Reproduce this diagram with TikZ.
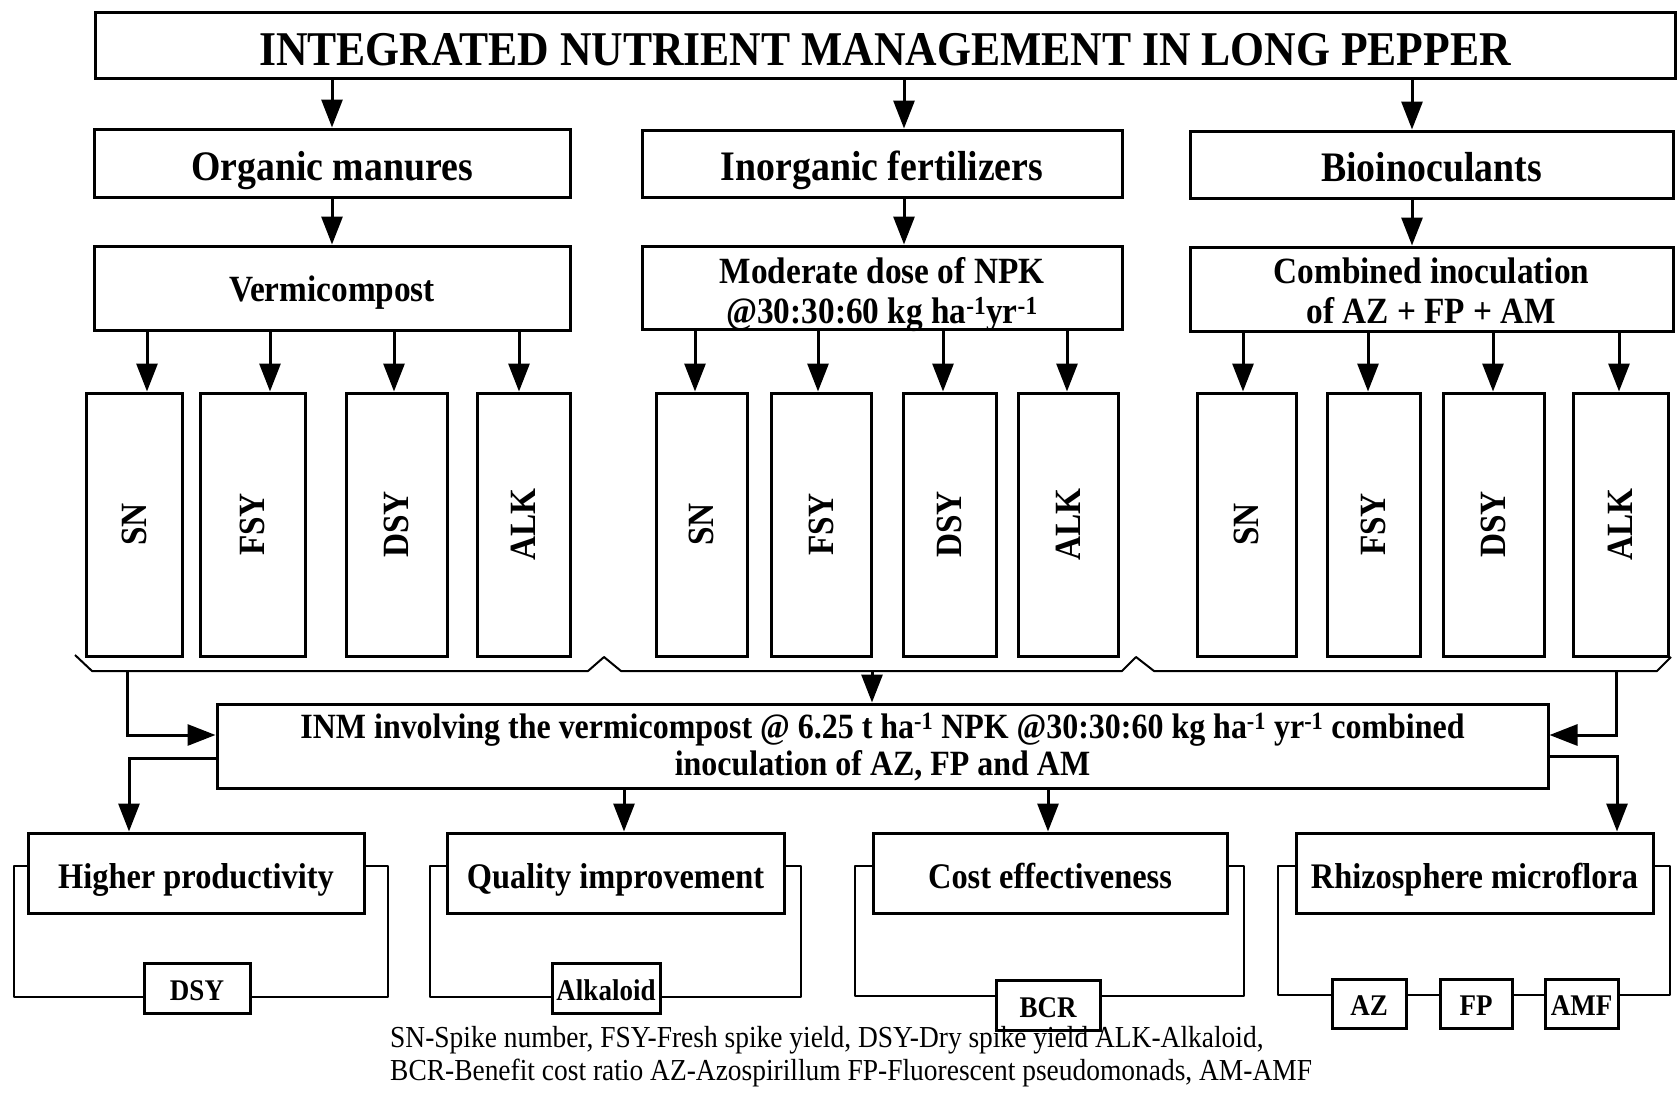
\documentclass[tikz,border=0pt]{standalone}
\usepackage{fontspec}
\setmainfont{Liberation Serif}[FakeStretch=0.9]
\usepackage{graphicx}
\usetikzlibrary{arrows.meta}
\tikzset{
  box/.style={draw, line width=3pt, inner sep=0pt, align=center},
  th/.style={text height=#1, text depth=0pt},
  arr/.style={line width=3pt, -{Triangle[length=28pt,width=21pt]}},
  thinline/.style={line width=2pt, line join=round},
  ftitle/.style={font=\bfseries\fontsize{48.5}{52}\selectfont, th=41pt},
  fbig/.style={font=\bfseries\fontsize{42}{46}\selectfont, th=34pt},
  fmid/.style={font=\bfseries\fontsize{37}{39.5}\selectfont},
  fverm/.style={fmid, th=26.5pt},
  finm/.style={font=\bfseries\fontsize{35.5}{37}\selectfont},
  fbot/.style={font=\bfseries\fontsize{36}{40}\selectfont, th=30pt},
  fsmall/.style={font=\bfseries\fontsize{30}{34}\selectfont, th=24pt},
  fleg/.style={font=\fontsize{30.5}{33}\selectfont},
}
\newcommand{\bx}[7][]{%
  \node[box,minimum width={#5-#3},minimum height={#6-#4},#1] (#2) at ({(#3+#5)/2},{(#4+#6)/2}) {#7};}
\begin{document}
\begin{tikzpicture}[x=1pt,y=-1pt]
\fill[white] (0,0) rectangle (1678,1095);
\useasboundingbox (0,0) rectangle (1678,1095);

% title
\bx[ftitle]{title}{95}{12}{1675}{78}{INTEGRATED NUTRIENT MANAGEMENT IN LONG PEPPER}

% row 2
\bx[fbig]{org}{94}{129}{570}{197}{Organic manures}
\bx[fbig]{inorg}{642}{130}{1122}{197}{Inorganic fertilizers}
\bx[fbig]{bio}{1190}{131}{1673}{198}{Bioinoculants}

% row 3
\bx[fverm]{verm}{94}{246}{570}{330}{Vermicompost}
\bx[label={[fmid,align=center,yshift=-7pt]center:Moderate dose of NPK\\@30:30:60 kg ha\textsuperscript{-1}yr\textsuperscript{-1}}]{npk}{642}{246}{1122}{329}{}
\bx[label={[fmid,align=center,yshift=-2pt]center:Combined inoculation\\of AZ + FP + AM}]{comb}{1190}{247}{1673}{331}{}

% column x positions
\coordinate (c1) at (332,0);
\coordinate (c2) at (904,0);
\coordinate (c3) at (1412,0);
\draw[arr] (title.south -| c1) -- (org.north -| c1);
\draw[arr] (title.south -| c2) -- (inorg.north -| c2);
\draw[arr] (title.south -| c3) -- (bio.north -| c3);
\draw[arr] (org.south -| c1) -- (verm.north -| c1);
\draw[arr] (inorg.south -| c2) -- (npk.north -| c2);
\draw[arr] (bio.south -| c3) -- (comb.north -| c3);

% tall boxes
\bx[fmid]{sna}{86}{393}{182}{656}{\rotatebox{90}{SN}}
\bx[fmid]{fsya}{200}{393}{305}{656}{\rotatebox{90}{FSY}}
\bx[fmid]{dsya}{346}{393}{447}{656}{\rotatebox{90}{DSY}}
\bx[fmid]{alka}{477}{393}{570}{656}{\rotatebox{90}{ALK}}
\bx[fmid]{snb}{656}{393}{747}{656}{\rotatebox{90}{SN}}
\bx[fmid]{fsyb}{771}{393}{871}{656}{\rotatebox{90}{FSY}}
\bx[fmid]{dsyb}{903}{393}{996}{656}{\rotatebox{90}{DSY}}
\bx[fmid]{alkb}{1018}{393}{1118}{656}{\rotatebox{90}{ALK}}
\bx[fmid]{snc}{1197}{393}{1296}{656}{\rotatebox{90}{SN}}
\bx[fmid]{fsyc}{1327}{393}{1420}{656}{\rotatebox{90}{FSY}}
\bx[fmid]{dsyc}{1443}{393}{1544}{656}{\rotatebox{90}{DSY}}
\bx[fmid]{alkc}{1573}{393}{1668}{656}{\rotatebox{90}{ALK}}

\coordinate (ka1) at (147,0);
\coordinate (ka2) at (270,0);
\coordinate (ka3) at (394,0);
\coordinate (ka4) at (519,0);
\coordinate (kb1) at (695,0);
\coordinate (kb2) at (818,0);
\coordinate (kb3) at (943,0);
\coordinate (kb4) at (1067,0);
\coordinate (kc1) at (1243,0);
\coordinate (kc2) at (1368,0);
\coordinate (kc3) at (1493,0);
\coordinate (kc4) at (1619,0);
\draw[arr] (verm.south -| ka1) -- (sna.north -| ka1);
\draw[arr] (verm.south -| ka2) -- (fsya.north -| ka2);
\draw[arr] (verm.south -| ka3) -- (dsya.north -| ka3);
\draw[arr] (verm.south -| ka4) -- (alka.north -| ka4);
\draw[arr] (npk.south -| kb1) -- (snb.north -| kb1);
\draw[arr] (npk.south -| kb2) -- (fsyb.north -| kb2);
\draw[arr] (npk.south -| kb3) -- (dsyb.north -| kb3);
\draw[arr] (npk.south -| kb4) -- (alkb.north -| kb4);
\draw[arr] (comb.south -| kc1) -- (snc.north -| kc1);
\draw[arr] (comb.south -| kc2) -- (fsyc.north -| kc2);
\draw[arr] (comb.south -| kc3) -- (dsyc.north -| kc3);
\draw[arr] (comb.south -| kc4) -- (alkc.north -| kc4);

% brace
\draw[thinline] (75,655) -- (92,671) -- (588,671) -- (604,657) -- (621,671)
  -- (1122,671) -- (1136,657) -- (1154,671) -- (1657,671) -- (1671,657);
\coordinate (bl) at (127,671);
\coordinate (bm) at (872,671);
\coordinate (br) at (1616,671);

% INM box
\bx[label={[finm,align=center,yshift=-1pt]center:INM involving the vermicompost @ 6.25 t ha\textsuperscript{-1} NPK @30:30:60 kg ha\textsuperscript{-1} yr\textsuperscript{-1} combined\\inoculation of AZ, FP and AM}]{inm}{217}{704}{1548}{788}{}

\coordinate (j1) at (127,735);
\coordinate (j3) at (1616,735);
\coordinate (j2) at (129,758);
\coordinate (j4) at (1617,756);
\draw[arr] (bl) -- (j1) -- (j1 -| inm.west);
\draw[arr] (bm) -- (bm |- inm.north);
\draw[arr] (br) -- (j3) -- (j3 -| inm.east);

% bottom boxes
\bx[fbot]{hp}{28}{833}{364}{913}{Higher productivity}
\bx[fbot]{qual}{447}{833}{784}{913}{Quality improvement}
\bx[fbot]{cost}{873}{833}{1227}{913}{Cost effectiveness}
\bx[fbot]{rhizo}{1296}{833}{1653}{913}{Rhizosphere microflora}

\coordinate (q) at (624,0);
\coordinate (cc) at (1048,0);
\draw[arr] (j2 -| inm.west) -- (j2) -- (j2 |- hp.north);
\draw[arr] (inm.south -| q) -- (qual.north -| q);
\draw[arr] (inm.south -| cc) -- (cost.north -| cc);
\draw[arr] (j4 -| inm.east) -- (j4) -- (j4 |- rhizo.north);

% small boxes
\bx[fsmall]{dsy}{144}{963}{250}{1013}{DSY}
\bx[fsmall]{alk}{552}{963}{660}{1013}{Alkaloid}
\bx[fsmall]{bcr}{996}{980}{1100}{1030}{BCR}
\bx[fsmall]{az}{1332}{979}{1406}{1028}{AZ}
\bx[fsmall]{fp}{1440}{979}{1512}{1028}{FP}
\bx[fsmall]{amf}{1545}{979}{1618}{1028}{AMF}

% brackets
\coordinate (a1) at (14,866);  \coordinate (a2) at (14,997);
\coordinate (a3) at (388,997); \coordinate (a4) at (388,866);
\draw[thinline] (a1 -| hp.west) -- (a1) -- (a2) -- (a2 -| dsy.west);
\draw[thinline] (a2 -| dsy.east) -- (a3) -- (a4) -- (a4 -| hp.east);

\coordinate (b1) at (430,866);  \coordinate (b2) at (430,997);
\coordinate (b3) at (801,997);  \coordinate (b4) at (801,866);
\draw[thinline] (b1 -| qual.west) -- (b1) -- (b2) -- (b2 -| alk.west);
\draw[thinline] (b2 -| alk.east) -- (b3) -- (b4) -- (b4 -| qual.east);

\coordinate (d1) at (855,866);  \coordinate (d2) at (855,996);
\coordinate (d3) at (1244,996); \coordinate (d4) at (1244,866);
\draw[thinline] (d1 -| cost.west) -- (d1) -- (d2) -- (d2 -| bcr.west);
\draw[thinline] (d2 -| bcr.east) -- (d3) -- (d4) -- (d4 -| cost.east);

\coordinate (e1) at (1278,866); \coordinate (e2) at (1278,995);
\coordinate (e3) at (1670,995); \coordinate (e4) at (1670,866);
\draw[thinline] (e1 -| rhizo.west) -- (e1) -- (e2) -- (e2 -| az.west);
\draw[thinline] (e2 -| az.east) -- (e2 -| fp.west);
\draw[thinline] (e2 -| fp.east) -- (e2 -| amf.west);
\draw[thinline] (e2 -| amf.east) -- (e3) -- (e4) -- (e4 -| rhizo.east);

% legend
\node[fleg, anchor=west, align=left, inner sep=0pt] (leg) at (390,1057)
  {SN-Spike number, FSY-Fresh spike yield, DSY-Dry spike yield ALK-Alkaloid,\\
   BCR-Benefit cost ratio AZ-Azospirillum FP-Fluorescent pseudomonads, AM-AMF};
\end{tikzpicture}
\end{document}
